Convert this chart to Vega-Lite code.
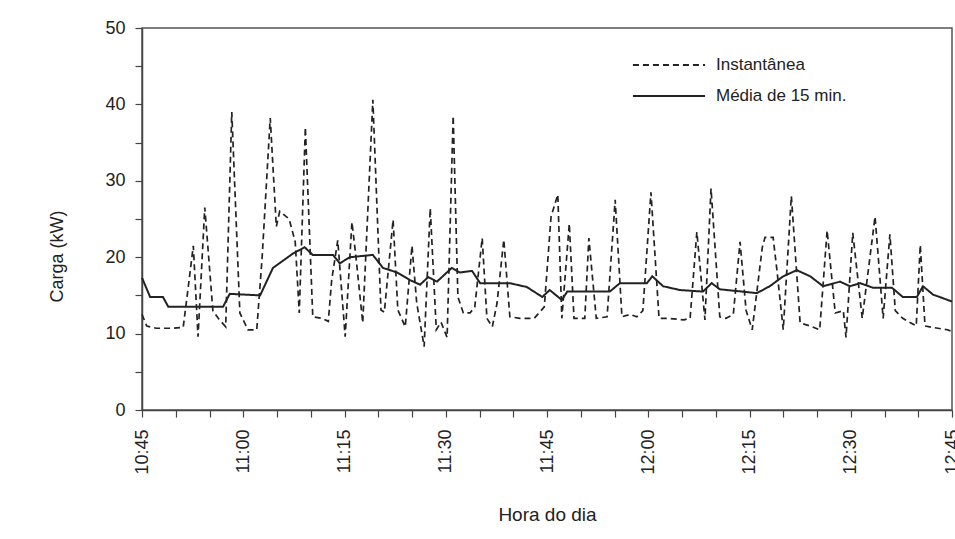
{
  "$schema": "https://vega.github.io/schema/vega-lite/v6.json",
  "width": 810,
  "height": 382,
  "autosize": {"type": "none"},
  "padding": {"left": 142, "top": 28, "right": 3, "bottom": 129},
  "background": "white",
  "config": {
    "font": "Liberation Sans",
    "view": {"stroke": "#555", "strokeWidth": 1.5},
    "axis": {"grid": false, "domainColor": "#444", "domainWidth": 1.5, "tickColor": "#444", "tickWidth": 1.2, "labelColor": "#222", "titleColor": "#222", "labelFont": "Liberation Sans", "titleFont": "Liberation Sans", "titleFontWeight": "normal"},
    "legend": {"symbolType": "stroke", "symbolSize": 5200, "symbolStrokeWidth": 1.8, "symbolStrokeColor": "#222", "labelFontSize": 17, "labelColor": "#222", "labelOffset": 10, "orient": "none"}
  },
  "data": {"values": [
    {"t": 0.0, "v": 12.5, "s": "Instantânea"},
    {"t": 0.7, "v": 11.0, "s": "Instantânea"},
    {"t": 2.1, "v": 10.7, "s": "Instantânea"},
    {"t": 4.2, "v": 10.7, "s": "Instantânea"},
    {"t": 6.1, "v": 10.8, "s": "Instantânea"},
    {"t": 6.7, "v": 15, "s": "Instantânea"},
    {"t": 7.6, "v": 21.5, "s": "Instantânea"},
    {"t": 8.3, "v": 9.6, "s": "Instantânea"},
    {"t": 9.3, "v": 26.5, "s": "Instantânea"},
    {"t": 10.5, "v": 13, "s": "Instantânea"},
    {"t": 11.3, "v": 12, "s": "Instantânea"},
    {"t": 12.4, "v": 10.9, "s": "Instantânea"},
    {"t": 13.3, "v": 39, "s": "Instantânea"},
    {"t": 14.5, "v": 12.7, "s": "Instantânea"},
    {"t": 15.7, "v": 10.5, "s": "Instantânea"},
    {"t": 17.0, "v": 10.5, "s": "Instantânea"},
    {"t": 17.8, "v": 20, "s": "Instantânea"},
    {"t": 19.0, "v": 38.2, "s": "Instantânea"},
    {"t": 19.9, "v": 24, "s": "Instantânea"},
    {"t": 20.4, "v": 26, "s": "Instantânea"},
    {"t": 21.8, "v": 25, "s": "Instantânea"},
    {"t": 22.7, "v": 22, "s": "Instantânea"},
    {"t": 23.3, "v": 12.7, "s": "Instantânea"},
    {"t": 24.2, "v": 37, "s": "Instantânea"},
    {"t": 25.3, "v": 12.2, "s": "Instantânea"},
    {"t": 26.7, "v": 12, "s": "Instantânea"},
    {"t": 27.6, "v": 11.6, "s": "Instantânea"},
    {"t": 28.1, "v": 17, "s": "Instantânea"},
    {"t": 29.0, "v": 22.2, "s": "Instantânea"},
    {"t": 30.1, "v": 9.6, "s": "Instantânea"},
    {"t": 31.1, "v": 24.6, "s": "Instantânea"},
    {"t": 31.7, "v": 20, "s": "Instantânea"},
    {"t": 32.7, "v": 11.4, "s": "Instantânea"},
    {"t": 34.2, "v": 40.6, "s": "Instantânea"},
    {"t": 35.4, "v": 13.1, "s": "Instantânea"},
    {"t": 35.9, "v": 12.8, "s": "Instantânea"},
    {"t": 37.2, "v": 24.9, "s": "Instantânea"},
    {"t": 37.9, "v": 13.1, "s": "Instantânea"},
    {"t": 39.0, "v": 10.9, "s": "Instantânea"},
    {"t": 40.0, "v": 21.5, "s": "Instantânea"},
    {"t": 40.7, "v": 14, "s": "Instantânea"},
    {"t": 41.8, "v": 8.3, "s": "Instantânea"},
    {"t": 42.7, "v": 26.4, "s": "Instantânea"},
    {"t": 43.6, "v": 10.5, "s": "Instantânea"},
    {"t": 44.3, "v": 11.5, "s": "Instantânea"},
    {"t": 45.2, "v": 9.5, "s": "Instantânea"},
    {"t": 46.1, "v": 38.5, "s": "Instantânea"},
    {"t": 46.8, "v": 14.8, "s": "Instantânea"},
    {"t": 47.6, "v": 12.7, "s": "Instantânea"},
    {"t": 48.6, "v": 12.7, "s": "Instantânea"},
    {"t": 49.3, "v": 13.5, "s": "Instantânea"},
    {"t": 50.4, "v": 22.5, "s": "Instantânea"},
    {"t": 51.1, "v": 12, "s": "Instantânea"},
    {"t": 51.9, "v": 10.9, "s": "Instantânea"},
    {"t": 52.6, "v": 14, "s": "Instantânea"},
    {"t": 53.6, "v": 22.3, "s": "Instantânea"},
    {"t": 54.5, "v": 12.2, "s": "Instantânea"},
    {"t": 56.0, "v": 12, "s": "Instantânea"},
    {"t": 58.1, "v": 12, "s": "Instantânea"},
    {"t": 59.6, "v": 13.5, "s": "Instantânea"},
    {"t": 60.6, "v": 25.3, "s": "Instantânea"},
    {"t": 61.6, "v": 28.2, "s": "Instantânea"},
    {"t": 62.2, "v": 12, "s": "Instantânea"},
    {"t": 63.3, "v": 24.4, "s": "Instantânea"},
    {"t": 64.0, "v": 12, "s": "Instantânea"},
    {"t": 65.6, "v": 12, "s": "Instantânea"},
    {"t": 66.2, "v": 22.5, "s": "Instantânea"},
    {"t": 67.3, "v": 12, "s": "Instantânea"},
    {"t": 68.9, "v": 12.2, "s": "Instantânea"},
    {"t": 70.1, "v": 27.5, "s": "Instantânea"},
    {"t": 71.1, "v": 12.2, "s": "Instantânea"},
    {"t": 72.3, "v": 12.5, "s": "Instantânea"},
    {"t": 73.3, "v": 12.2, "s": "Instantânea"},
    {"t": 74.2, "v": 13, "s": "Instantânea"},
    {"t": 75.4, "v": 28.5, "s": "Instantânea"},
    {"t": 76.6, "v": 12, "s": "Instantânea"},
    {"t": 77.9, "v": 12, "s": "Instantânea"},
    {"t": 80.3, "v": 11.8, "s": "Instantânea"},
    {"t": 81.2, "v": 12, "s": "Instantânea"},
    {"t": 82.2, "v": 23.3, "s": "Instantânea"},
    {"t": 83.4, "v": 11.8, "s": "Instantânea"},
    {"t": 84.3, "v": 29, "s": "Instantânea"},
    {"t": 85.6, "v": 12.2, "s": "Instantânea"},
    {"t": 86.5, "v": 12, "s": "Instantânea"},
    {"t": 87.6, "v": 12.5, "s": "Instantânea"},
    {"t": 88.6, "v": 22, "s": "Instantânea"},
    {"t": 89.5, "v": 13, "s": "Instantânea"},
    {"t": 90.4, "v": 10.5, "s": "Instantânea"},
    {"t": 91.9, "v": 21.3, "s": "Instantânea"},
    {"t": 92.3, "v": 22.6, "s": "Instantânea"},
    {"t": 93.5, "v": 22.6, "s": "Instantânea"},
    {"t": 94.1, "v": 18, "s": "Instantânea"},
    {"t": 95.0, "v": 10.5, "s": "Instantânea"},
    {"t": 96.2, "v": 28, "s": "Instantânea"},
    {"t": 97.5, "v": 11.4, "s": "Instantânea"},
    {"t": 99.0, "v": 11, "s": "Instantânea"},
    {"t": 100.4, "v": 10.5, "s": "Instantânea"},
    {"t": 101.5, "v": 23.5, "s": "Instantânea"},
    {"t": 102.7, "v": 12.7, "s": "Instantânea"},
    {"t": 103.9, "v": 13, "s": "Instantânea"},
    {"t": 104.3, "v": 9.5, "s": "Instantânea"},
    {"t": 105.3, "v": 23.2, "s": "Instantânea"},
    {"t": 106.7, "v": 12, "s": "Instantânea"},
    {"t": 108.6, "v": 25.3, "s": "Instantânea"},
    {"t": 109.8, "v": 12, "s": "Instantânea"},
    {"t": 110.8, "v": 23, "s": "Instantânea"},
    {"t": 111.6, "v": 13, "s": "Instantânea"},
    {"t": 112.7, "v": 12, "s": "Instantânea"},
    {"t": 114.7, "v": 11, "s": "Instantânea"},
    {"t": 115.3, "v": 21.6, "s": "Instantânea"},
    {"t": 116.0, "v": 11, "s": "Instantânea"},
    {"t": 117.2, "v": 10.8, "s": "Instantânea"},
    {"t": 119.3, "v": 10.5, "s": "Instantânea"},
    {"t": 120.0, "v": 10.3, "s": "Instantânea"},
    {"t": 0.0, "v": 17.3, "s": "Média de 15 min."},
    {"t": 1.2, "v": 14.8, "s": "Média de 15 min."},
    {"t": 3.1, "v": 14.8, "s": "Média de 15 min."},
    {"t": 3.9, "v": 13.5, "s": "Média de 15 min."},
    {"t": 12.0, "v": 13.5, "s": "Média de 15 min."},
    {"t": 13.0, "v": 15.2, "s": "Média de 15 min."},
    {"t": 17.5, "v": 15.0, "s": "Média de 15 min."},
    {"t": 19.4, "v": 18.6, "s": "Média de 15 min."},
    {"t": 22.4, "v": 20.5, "s": "Média de 15 min."},
    {"t": 24.1, "v": 21.3, "s": "Média de 15 min."},
    {"t": 25.3, "v": 20.3, "s": "Média de 15 min."},
    {"t": 28.3, "v": 20.3, "s": "Média de 15 min."},
    {"t": 29.3, "v": 19.2, "s": "Média de 15 min."},
    {"t": 30.8, "v": 20.0, "s": "Média de 15 min."},
    {"t": 34.2, "v": 20.3, "s": "Média de 15 min."},
    {"t": 35.7, "v": 18.6, "s": "Média de 15 min."},
    {"t": 37.8, "v": 18.0, "s": "Média de 15 min."},
    {"t": 39.7, "v": 17.0, "s": "Média de 15 min."},
    {"t": 41.2, "v": 16.4, "s": "Média de 15 min."},
    {"t": 42.4, "v": 17.4, "s": "Média de 15 min."},
    {"t": 43.7, "v": 16.8, "s": "Média de 15 min."},
    {"t": 45.9, "v": 18.6, "s": "Média de 15 min."},
    {"t": 47.1, "v": 18.0, "s": "Média de 15 min."},
    {"t": 48.9, "v": 18.2, "s": "Média de 15 min."},
    {"t": 50.1, "v": 16.6, "s": "Média de 15 min."},
    {"t": 54.5, "v": 16.6, "s": "Média de 15 min."},
    {"t": 57.0, "v": 16.1, "s": "Média de 15 min."},
    {"t": 59.3, "v": 14.8, "s": "Média de 15 min."},
    {"t": 60.4, "v": 15.7, "s": "Média de 15 min."},
    {"t": 62.2, "v": 14.4, "s": "Média de 15 min."},
    {"t": 63.0, "v": 15.5, "s": "Média de 15 min."},
    {"t": 69.3, "v": 15.5, "s": "Média de 15 min."},
    {"t": 70.8, "v": 16.6, "s": "Média de 15 min."},
    {"t": 74.8, "v": 16.6, "s": "Média de 15 min."},
    {"t": 75.6, "v": 17.5, "s": "Média de 15 min."},
    {"t": 77.2, "v": 16.2, "s": "Média de 15 min."},
    {"t": 79.7, "v": 15.7, "s": "Média de 15 min."},
    {"t": 83.1, "v": 15.5, "s": "Média de 15 min."},
    {"t": 84.4, "v": 16.6, "s": "Média de 15 min."},
    {"t": 85.6, "v": 15.8, "s": "Média de 15 min."},
    {"t": 91.1, "v": 15.3, "s": "Média de 15 min."},
    {"t": 93.0, "v": 16.2, "s": "Média de 15 min."},
    {"t": 95.0, "v": 17.5, "s": "Média de 15 min."},
    {"t": 97.0, "v": 18.3, "s": "Média de 15 min."},
    {"t": 99.0, "v": 17.5, "s": "Média de 15 min."},
    {"t": 100.9, "v": 16.2, "s": "Média de 15 min."},
    {"t": 103.4, "v": 16.8, "s": "Média de 15 min."},
    {"t": 104.9, "v": 16.2, "s": "Média de 15 min."},
    {"t": 106.4, "v": 16.6, "s": "Média de 15 min."},
    {"t": 108.3, "v": 16.0, "s": "Média de 15 min."},
    {"t": 111.1, "v": 16.0, "s": "Média de 15 min."},
    {"t": 112.7, "v": 14.8, "s": "Média de 15 min."},
    {"t": 114.8, "v": 14.8, "s": "Média de 15 min."},
    {"t": 115.7, "v": 16.2, "s": "Média de 15 min."},
    {"t": 117.2, "v": 15.1, "s": "Média de 15 min."},
    {"t": 120.0, "v": 14.2, "s": "Média de 15 min."}
  ]},
  "encoding": {
    "x": {
      "field": "t", "type": "quantitative",
      "scale": {"domain": [0, 120], "nice": false, "zero": false},
      "axis": {
        "title": "Hora do dia", "titleFontSize": 19, "titlePadding": 31,
        "values": [0,5,10,15,20,25,30,35,40,45,50,55,60,65,70,75,80,85,90,95,100,105,110,115,120],
        "labelExpr": "datum.value % 15 === 0 ? (floor((645 + datum.value) / 60) + ':' + (((645 + datum.value) % 60) < 10 ? '0' : '') + ((645 + datum.value) % 60)) : ''",
        "labelAngle": -90, "labelFontSize": 18, "labelPadding": 12, "tickSize": 7, "labelOverlap": false, "labelFlush": false
      }
    },
    "y": {
      "field": "v", "type": "quantitative",
      "scale": {"domain": [0, 50], "nice": false},
      "axis": {
        "title": "Carga (kW)", "titleFontSize": 18, "titleX": -76, "titleY": 228,
        "values": [0,5,10,15,20,25,30,35,40,45,50],
        "labelExpr": "datum.value % 10 === 0 ? datum.label : ''",
        "labelFontSize": 18, "labelPadding": 10, "tickSize": 7, "labelOverlap": false
      }
    }
  },
  "layer": [
    {
      "transform": [{"filter": "datum.s === 'Instantânea'"}],
      "mark": {"type": "line", "color": "#222", "strokeWidth": 1.7},
      "encoding": {
        "strokeDash": {
          "field": "s", "type": "nominal",
          "scale": {"domain": ["Instantânea"], "range": [[6, 4]]},
          "legend": {"title": null, "legendX": 490, "legendY": 0}
        }
      }
    },
    {
      "transform": [{"filter": "datum.s === 'Média de 15 min.'"}],
      "mark": {"type": "line", "color": "#222", "strokeWidth": 2},
      "encoding": {
        "strokeDash": {
          "field": "s", "type": "nominal",
          "scale": {"domain": ["Média de 15 min."], "range": [[1, 0]]},
          "legend": {"title": null, "legendX": 490, "legendY": 31}
        }
      }
    }
  ],
  "resolve": {"scale": {"strokeDash": "independent"}, "legend": {"strokeDash": "independent"}}
}
